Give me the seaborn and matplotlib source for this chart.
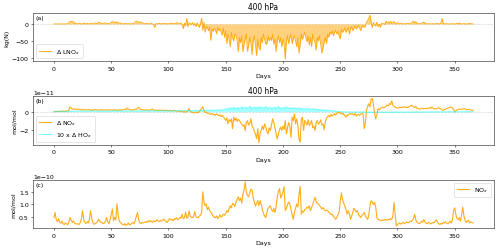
import matplotlib
matplotlib.use("Agg")
import matplotlib.pyplot as plt
import numpy as np
import seaborn as sns

# daily values, day 0 .. 366
lno_kg = [
    0, 0, 0, 0, 0, 0, 0, 0, 0, 0,
    0, 0, 1, 3, 7, 8, 6, 7, 2, 1,
    1, 0, 2, 1, 0, 0, 3, 1, 0, 2,
    0, 1, 0, 2, 0, 1, 3, 2, 1, 5,
    4, 2, 1, 0, 3, 2, 1, 0, 1, 2,
    4, 7, 5, 6, 3, 6, 4, 2, 3, 1,
    0, 1, 0, 2, 0, 1, 0, 0, 1, 0,
    2, 6, 8, 5, 7, 4, 6, 3, 2, 1,
    0, 2, 1, 0, 1, 3, 0, -2, -10, 1,
    0, 1, 2, 0, 1, 0, 2, 1, 0, 1,
    0, 1, 3, 0, 2, 1, 0, 4, 2, 0,
    1, 3, -3, -14, 2, -6, 16, -8, 3, 1,
    -2, 4, -4, 2, -8, 3, -5, -10, 2, 17,
    -19, 5, -24, -8, -12, -20, -10, -48, -15, -22,
    -12, -18, -29, -10, -20, -14, -25, -33, -12, -40,
    -20, -58, -30, -45, -67, -25, -40, -50, -30, -35,
    -49, -81, -40, -55, -35, -82, -60, -45, -30, -81,
    -63, -40, -55, -90, -50, -35, -60, -93, -45, -70,
    -77, -40, -55, -30, -45, -60, -58, -35, -50, -40,
    -49, -30, -60, -45, -82, -50, -35, -55, -40, -67,
    -45, -60, -104, -50, -35, -58, -40, -30, -58, -44,
    -35, -50, -67, -40, -86, -60, -30, -45, -34, -25,
    -40, -53, -35, -63, -40, -67, -30, -45, -55, -77,
    -40, -50, -35, -60, -86, -70, -53, -40, -58, -30,
    -39, -25, -30, -20, -35, -25, -18, -30, -22, -35,
    -44, -15, -25, -20, -12, -25, -18, -10, -30, -15,
    -8, -20, -12, -6, -15, -10, -5, -12, -20, -8,
    -5, -10, -6, 5, 10, 18, 26, 8, -11, 4,
    -3, -6, 5, -8, -1, -10, 2, 0, 1, -2,
    8, 3, 6, 2, 8, 1, 5, 7, 2, 0,
    4, 1, 0, 2, 1, 0, 0, 1, 0, 2,
    1, 0, 3, 6, 8, 2, 7, 1, 0, 1,
    0, 2, 4, 5, 3, 1, 0, 0, 1, 0,
    0, 1, 0, 0, 2, 1, 0, 0, 3, 16,
    2, 0, 0, 1, 0, 0, 0, 1, 0, 0,
    0, 0, 2, 0, 3, 0, 0, 0, 1, 0,
    0, 0, 0, 2, 1, 0, 0,
]

# delta NOx, units of 1e-11 mol/mol
dnox = [
    0.00, 0.02, 0.03, 0.02, 0.04, 0.03, 0.05, 0.04, 0.06, 0.05,
    0.06, 0.05, 0.08, 0.15, 0.55, 0.40, 0.30, 0.25, 0.35, 0.28,
    0.22, 0.30, 0.25, 0.20, 0.28, 0.22, 0.18, 0.25, 0.20, 0.22,
    0.18, 0.24, 0.20, 0.15, 0.22, 0.18, 0.25, 0.20, 0.16, 0.22,
    0.18, 0.20, 0.25, 0.15, 0.18, 0.22, 0.20, 0.17, 0.24, 0.20,
    0.18, 0.15, 0.20, 0.22, 0.18, 0.15, 0.20, 0.17, 0.22, 0.18,
    0.20, 0.25, 0.30, 0.22, 0.40, 0.28, 0.25, 0.20, 0.22, 0.18,
    0.22, 0.30, 0.25, 0.35, 0.50, 0.30, 0.22, 0.25, 0.20, 0.18,
    0.20, 0.18, 0.22, 0.15, 0.18, 0.25, 0.30, 0.20, 0.15, 0.18,
    0.15, 0.12, 0.18, 0.15, 0.20, 0.12, 0.15, 0.18, 0.12, 0.15,
    0.10, 0.15, 0.12, 0.08, 0.12, 0.15, 0.10, 0.08, 0.05, 0.10,
    0.05, 0.02, 0.06, -0.05, 0.02, -0.08, 0.05, 0.10, 0.34, 0.05,
    -0.05, -0.12, -0.08, -0.15, -0.10, -0.05, -0.12, 0.05, 0.20, 0.35,
    0.55, 0.15, -0.10, -0.05, -0.20, -0.15, -0.25, -0.30, -0.20, -0.35,
    -0.30, -0.40, -0.25, -0.38, -0.45, -0.35, -0.55, -0.40, -0.60, -0.75,
    -0.98, -0.70, -1.35, -0.90, -1.10, -0.80, -1.90, -0.60, -0.98, -0.70,
    -1.10, -0.85, -1.00, -1.20, -1.40, -1.60, -1.45, -2.10, -1.20, -1.00,
    -1.50, -1.30, -0.79, -1.60, -1.80, -2.20, -2.50, -3.00, -1.90, -3.45,
    -2.40, -2.10, -1.60, -2.00, -1.36, -1.74, -2.20, -2.49, -1.80, -2.10,
    -1.50, -0.79, -1.17, -1.80, -2.40, -3.05, -2.50, -2.00, -1.73, -2.10,
    -1.60, -2.00, -0.98, -2.48, -1.80, -1.20, -1.60, -2.86, -0.60, -1.00,
    -0.23, -1.36, -0.80, -1.50, -3.05, -3.43, -0.79, -0.60, -2.10, -0.98,
    -1.20, -1.50, -0.90, -1.54, -1.30, -1.00, -1.80, -1.60, -2.10, -1.20,
    -0.98, -1.40, -1.20, -0.90, -1.50, -1.36, -2.00, -1.10, -0.70, -0.55,
    -0.41, -0.60, -0.30, -0.50, -0.35, -0.23, -0.40, -0.15, -0.10, -0.04,
    -0.20, -0.10, -0.30, -0.20, -0.45, -0.60, -0.35, -0.40, -0.25, -0.20,
    -0.30, -0.23, -0.40, -0.20, -0.50, -0.35, -0.30, -0.41, -0.25, -0.20,
    -0.30, -1.90, -1.20, 0.20, 0.60, 0.90, 0.53, 1.40, 1.47, 0.80,
    -0.20, -0.79, -0.40, 0.34, 0.20, 0.30, 0.45, 0.53, 0.40, 0.50,
    0.60, 0.75, 0.65, 0.90, 0.80, 1.20, 0.72, 0.60, 0.50, 0.45,
    0.40, 0.45, 0.50, 0.45, 0.48, 0.55, 0.50, 0.53, 0.45, 0.50,
    0.55, 0.60, 0.72, 0.65, 0.55, 0.45, 0.60, 0.34, 0.35, 0.30,
    0.28, 0.35, 0.40, 0.30, 0.34, 0.38, 0.32, 0.40, 0.45, 0.35,
    0.53, 0.40, 0.30, 0.35, 0.30, 0.40, 0.45, 0.35, 0.30, 0.20,
    0.15, 0.25, 0.30, 0.35, 0.40, 0.45, 0.50, 0.53, 0.40, 0.30,
    -0.04, 0.10, 0.20, 0.25, 0.30, 0.25, 0.30, 0.28, 0.34, 0.30,
    0.25, 0.20, 0.28, 0.22, 0.20, 0.18, 0.15,
]

# 10 x delta HOx, units of 1e-11 mol/mol
dhox10 = [
    0.01, 0.02, 0.03, 0.02, 0.04, 0.03, 0.02, 0.04, 0.03, 0.05,
    0.04, 0.03, 0.05, 0.04, 0.06, 0.05, 0.04, 0.06, 0.05, 0.04,
    0.05, 0.06, 0.04, 0.05, 0.07, 0.05, 0.06, 0.04, 0.05, 0.06,
    0.05, 0.07, 0.06, 0.05, 0.08, 0.06, 0.05, 0.07, 0.06, 0.05,
    0.06, 0.08, 0.05, 0.07, 0.06, 0.05, 0.08, 0.06, 0.07, 0.05,
    0.07, 0.06, 0.08, 0.05, 0.07, 0.09, 0.06, 0.08, 0.07, 0.06,
    0.08, 0.07, 0.06, 0.09, 0.07, 0.08, 0.06, 0.10, 0.07, 0.08,
    0.07, 0.09, 0.08, 0.06, 0.10, 0.08, 0.07, 0.09, 0.08, 0.07,
    0.09, 0.08, 0.10, 0.07, 0.09, 0.08, 0.11, 0.08, 0.09, 0.07,
    0.08, 0.10, 0.09, 0.07, 0.10, 0.08, 0.09, 0.11, 0.08, 0.10,
    0.09, 0.08, 0.11, 0.09, 0.10, 0.08, 0.12, 0.09, 0.10, 0.11,
    0.10, 0.12, 0.09, 0.11, 0.13, 0.10, 0.12, 0.11, 0.14, 0.10,
    0.12, 0.14, 0.11, 0.13, 0.15, 0.12, 0.14, 0.13, 0.16, 0.12,
    0.14, 0.16, 0.13, 0.15, 0.18, 0.14, 0.16, 0.15, 0.19, 0.14,
    0.16, 0.20, 0.15, 0.18, 0.22, 0.17, 0.20, 0.24, 0.18, 0.22,
    0.30, 0.25, 0.40, 0.32, 0.45, 0.28, 0.38, 0.50, 0.30, 0.42,
    0.35, 0.48, 0.30, 0.40, 0.55, 0.32, 0.45, 0.38, 0.50, 0.35,
    0.42, 0.60, 0.38, 0.45, 0.35, 0.52, 0.40, 0.48, 0.36, 0.55,
    0.40, 0.50, 0.35, 0.45, 0.38, 0.58, 0.42, 0.36, 0.48, 0.40,
    0.35, 0.45, 0.38, 0.50, 0.32, 0.42, 0.60, 0.38, 0.45, 0.35,
    0.40, 0.48, 0.35, 0.55, 0.38, 0.42, 0.32, 0.45, 0.36, 0.40,
    0.34, 0.42, 0.30, 0.38, 0.45, 0.32, 0.36, 0.28, 0.35, 0.30,
    0.32, 0.28, 0.36, 0.25, 0.30, 0.27, 0.33, 0.24, 0.28, 0.22,
    0.26, 0.20, 0.24, 0.18, 0.22, 0.16, 0.20, 0.14, 0.18, 0.12,
    0.15, 0.10, 0.12, 0.08, 0.10, 0.06, 0.08, 0.04, 0.05, 0.02,
    0.01, -0.02, 0.00, -0.03, -0.01, -0.04, -0.02, -0.03, -0.05, -0.02,
    -0.04, -0.03, -0.05, -0.02, -0.04, -0.06, -0.03, -0.05, -0.04, -0.06,
    -0.03, -0.05, -0.04, -0.06, -0.08, -0.05, -0.07, -0.04, -0.06, -0.05,
    -0.07, -0.04, -0.06, -0.05, -0.03, -0.06, -0.04, -0.05, -0.07, -0.04,
    -0.05, -0.06, -0.04, -0.07, -0.05, -0.04, -0.06, -0.05, -0.03, -0.05,
    -0.04, -0.06, -0.05, -0.03, -0.05, -0.04, -0.06, -0.03, -0.05, -0.04,
    -0.03, -0.05, -0.04, -0.06, -0.03, -0.04, -0.05, -0.03, -0.04, -0.02,
    -0.04, -0.03, -0.05, -0.02, -0.04, -0.03, -0.02, -0.04, -0.03, -0.02,
    -0.03, -0.02, -0.04, -0.02, -0.03, -0.01, -0.03, -0.02, -0.01, -0.03,
    -0.02, -0.01, -0.03, -0.02, -0.01, -0.02, 0.00, -0.02, -0.01, -0.02,
    -0.01, 0.00, -0.02, -0.01, 0.00, -0.01, -0.02, 0.00, -0.01, 0.00,
    -0.01, 0.00, 0.01, -0.01, 0.00, 0.01, 0.00,
]

# NOx, units of 1e-10 mol/mol
nox = [
    0.49, 0.69, 0.40, 0.33, 0.45, 0.30, 0.27, 0.35, 0.25, 0.22,
    0.28, 0.24, 0.21, 0.30, 0.49, 0.38, 0.30, 0.36, 0.27, 0.25,
    0.23, 0.25, 0.22, 0.30, 0.45, 0.76, 0.40, 0.30, 0.26, 0.33,
    0.28, 0.42, 0.76, 0.45, 0.30, 0.23, 0.25, 0.28, 0.33, 0.42,
    0.35, 0.30, 0.30, 0.25, 0.28, 0.35, 0.49, 0.33, 0.25, 0.40,
    0.60, 0.82, 0.36, 0.50, 0.40, 1.03, 0.60, 0.36, 0.30, 0.25,
    0.22, 0.20, 0.25, 0.18, 0.22, 0.28, 0.20, 0.23, 0.27, 0.30,
    0.25, 0.38, 0.55, 0.69, 0.40, 0.28, 0.25, 0.30, 0.28, 0.30,
    0.33, 0.30, 0.36, 0.32, 0.38, 0.34, 0.30, 0.37, 0.33, 0.35,
    0.40, 0.36, 0.33, 0.38, 0.35, 0.40, 0.42, 0.36, 0.33, 0.30,
    0.38, 0.45, 0.40, 0.42, 0.36, 0.45, 0.42, 0.48, 0.40, 0.44,
    0.50, 0.47, 0.62, 0.44, 0.48, 0.70, 0.46, 0.52, 0.75, 0.55,
    0.50, 0.48, 0.55, 0.72, 0.52, 0.50, 0.48, 0.55, 0.58, 0.70,
    1.49, 1.10, 0.95, 1.02, 0.80, 0.90, 0.76, 0.70, 0.62, 0.55,
    0.50, 0.48, 0.55, 0.45, 0.52, 0.60, 0.50, 0.55, 0.62, 0.58,
    0.65, 0.76, 0.70, 0.85, 0.95, 0.87, 1.05, 1.00, 0.92, 1.10,
    1.20, 1.30, 1.15, 1.25, 1.05, 1.40, 1.55, 1.88, 1.50, 1.35,
    1.30, 1.45, 1.60, 1.56, 1.25, 1.10, 0.93, 1.05, 1.15, 0.95,
    1.15, 1.00, 0.80, 0.65, 0.55, 0.49, 0.70, 0.85, 0.90, 0.95,
    0.80, 0.72, 0.85, 0.69, 0.90, 1.30, 1.50, 1.62, 1.25, 1.36,
    1.50, 1.69, 0.76, 0.85, 1.00, 1.10, 1.02, 0.80, 0.60, 0.42,
    0.70, 0.85, 1.02, 0.90, 1.40, 1.71, 0.62, 0.75, 0.70, 0.80,
    0.82, 0.90, 0.85, 0.95, 0.76, 0.88, 1.00, 1.15, 1.28, 1.10,
    1.05, 1.02, 0.95, 0.90, 0.82, 0.88, 0.80, 0.75, 0.78, 0.76,
    0.70, 0.66, 0.60, 0.62, 0.55, 0.48, 0.42, 0.50, 0.60, 0.69,
    1.10, 1.45, 1.20, 1.05, 0.95, 0.80, 0.62, 0.75, 0.65, 0.42,
    0.55, 0.70, 0.85, 0.78, 0.70, 0.76, 0.60, 0.55, 0.49, 0.58,
    0.62, 0.69, 0.55, 0.48, 0.42, 0.60, 0.95, 1.15, 1.10, 1.00,
    1.08, 0.90, 0.49, 0.42, 0.40, 0.38, 0.36, 0.40, 0.38, 0.42,
    0.40, 0.38, 0.42, 0.40, 0.45, 0.42, 0.55, 1.08, 0.60, 0.16,
    0.22, 0.25, 0.28, 0.23, 0.27, 0.30, 0.25, 0.28, 0.32, 0.28,
    0.30, 0.35, 0.33, 0.38, 0.45, 0.62, 0.40, 0.30, 0.28, 0.25,
    0.28, 0.35, 0.30, 0.42, 0.32, 0.27, 0.25, 0.30, 0.28, 0.24,
    0.27, 0.30, 0.28, 0.35, 0.40, 0.30, 0.25, 0.22, 0.26, 0.24,
    0.30, 0.28, 0.33, 0.27, 0.25, 0.30, 0.35, 0.28, 0.40, 0.75,
    0.87, 0.60, 0.45, 0.40, 0.49, 0.35, 0.60, 0.90, 0.55, 0.40,
    0.30, 0.35, 0.38, 0.28, 0.32, 0.30, 0.28,
]

days = np.arange(len(nox))


def zeroLine(ax):
    ax.axhline(0, color='lightgrey', ls='--', lw=1.0, zorder=0)


def main():
    # big figure at low dpi so the default font sizes shrink like the reference
    dpi = 45
    fig, axes = plt.subplots(3, 1, figsize=(500 / dpi, 253 / dpi), dpi=dpi)
    fig.subplots_adjust(left=0.066, right=0.988, top=0.945, bottom=0.094,
                        hspace=0.72)

    # (a)
    ax = axes[0]
    zeroLine(ax)
    ax.fill_between(days, lno_kg, 0, color='orange', alpha=0.5, lw=0)
    sns.lineplot(x=days, y=lno_kg, ax=ax, color='orange', alpha=0.9,
                 estimator=None, label=r'$\Delta$ LNO$_x$')
    ax.set_title('400 hPa')
    ax.set_ylabel('kg(N)')
    ax.text(0.005, 0.96, '(a)', transform=ax.transAxes, va='top')
    ax.legend(loc='lower left')

    # (b)
    ax = axes[1]
    zeroLine(ax)
    sns.lineplot(x=days, y=np.array(dnox) * 1e-11, ax=ax, color='orange',
                 alpha=0.9, lw=1.8, estimator=None, label=r'$\Delta$ NO$_x$')
    ax.fill_between(days, np.array(dhox10) * 1e-11, 0, color='cyan',
                    alpha=0.35, lw=0)
    sns.lineplot(x=days, y=np.array(dhox10) * 1e-11, ax=ax, color='cyan',
                 alpha=0.5, lw=1.8, estimator=None,
                 label=r'10 x $\Delta$ HO$_x$')
    ax.set_title('400 hPa')
    ax.set_ylabel('mol/mol')
    ax.text(0.005, 0.96, '(b)', transform=ax.transAxes, va='top')
    ax.legend(loc='lower left')

    # (c)
    ax = axes[2]
    sns.lineplot(x=days, y=np.array(nox) * 1e-10, ax=ax, color='orange',
                 alpha=0.9, lw=1.8, estimator=None, label='NO$_x$')
    ax.set_ylabel('mol/mol')
    ax.set_yticks([0.5e-10, 1.0e-10, 1.5e-10])
    ax.text(0.005, 0.96, '(c)', transform=ax.transAxes, va='top')
    ax.legend(loc='upper right')

    for ax in axes:
        ax.set_xlabel('Days')
        ax.set_xticks(range(0, 351, 50))

    fig.savefig('out.png', dpi=dpi)
    plt.close()


if __name__ == '__main__':
    main()
